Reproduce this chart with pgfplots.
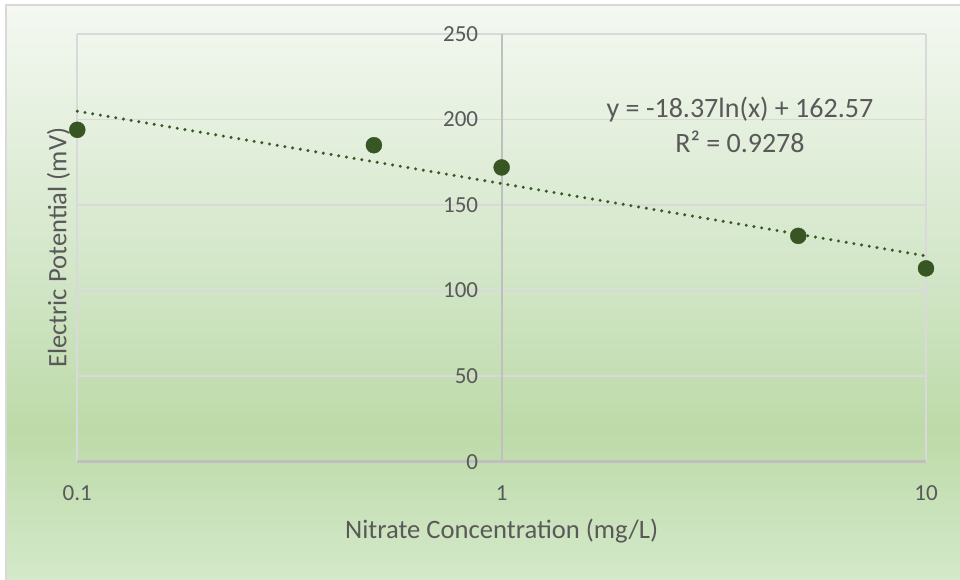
\documentclass[border=0pt]{standalone}
\usepackage{pgfplots}
\pgfplotsset{compat=1.18}
\usepackage{fontspec}
\setmainfont{Carlito}
\definecolor{txt}{HTML}{595959}
\definecolor{gridc}{HTML}{D9D9D9}
\definecolor{axl}{HTML}{BFBFBF}
\definecolor{mk}{HTML}{375623}
\definecolor{bgtop}{HTML}{F4F8F1}
\definecolor{bgmid}{HTML}{D0E5C5}
\definecolor{bgdark}{HTML}{BDDAA8}
\definecolor{bgbot}{HTML}{D4E9CA}
\begin{document}
\begin{tikzpicture}
\path[use as bounding box] (0pt,0pt) rectangle (960pt,580pt);
\fill[white] (0pt,0pt) rectangle (960pt,580pt);
\shade[bottom color=bgbot, top color=bgdark] (6pt,0pt) rectangle (960pt,150pt);
\shade[bottom color=bgdark, top color=bgmid] (6pt,149.5pt) rectangle (960pt,290pt);
\shade[bottom color=bgmid, top color=bgtop] (6pt,289.5pt) rectangle (960pt,575pt);
\draw[gridc, line width=1.8pt] (6pt,0pt) -- (6pt,575pt) -- (960pt,575pt);
\begin{axis}[
  at={(77.3pt,118.3pt)}, anchor=south west,
  scale only axis, width=848.7pt, height=427.7pt,
  xmode=log, xmin=0.1, xmax=10, ymin=0, ymax=250,
  xtick={0.1,1,10}, xticklabels={0.1,1,10},
  ytick={0,50,100,150,200,250},
  xminorticks=false, yminorticks=false,
  axis x line*=bottom, axis y line*=left,
  x axis line style={axl, line width=2.4pt, -},
  y axis line style={draw=none, -},
  major tick length=0pt,
  xmajorgrids, ymajorgrids,
  major grid style={gridc, line width=1.8pt},
  tick label style={font=\fontsize{23}{27}\selectfont, text=txt},
  xticklabel style={anchor=base, yshift=-39pt},
  yticklabel style={anchor=east, inner sep=0pt, xshift=401pt},
  /pgf/number format/assume math mode=true,
  xlabel={Nitrate Concentration (mg/L)},
  ylabel={Electric Potential (mV)},
  label style={font=\fontsize{26.6}{32}\selectfont, text=txt},
  xlabel style={at={(rel axis cs:0.5,-0.18)}, anchor=base},
  ylabel style={at={(rel axis cs:-0.013,0.5)}, anchor=base},
  clip=false,
]
\draw[axl, line width=2pt] (axis cs:1,0) -- (axis cs:1,250);
\addplot[mk, line width=3.4pt, line cap=round, dash pattern=on 0pt off 7.8pt] coordinates {(0.1,204.87) (10,120.27)};
\addplot[only marks, mark=*, mark size=8pt, draw=mk, fill=mk] coordinates {
(0.1,194) (0.5,185) (1,172) (5,132) (10,113)};
\end{axis}
\node[anchor=base, font=\fontsize{28}{34}\selectfont, text=txt] at (740pt,462pt) {y = -18.37ln(x) + 162.57};
\node[anchor=base, font=\fontsize{28}{34}\selectfont, text=txt] at (740pt,427pt) {R² = 0.9278};
\end{tikzpicture}
\end{document}
